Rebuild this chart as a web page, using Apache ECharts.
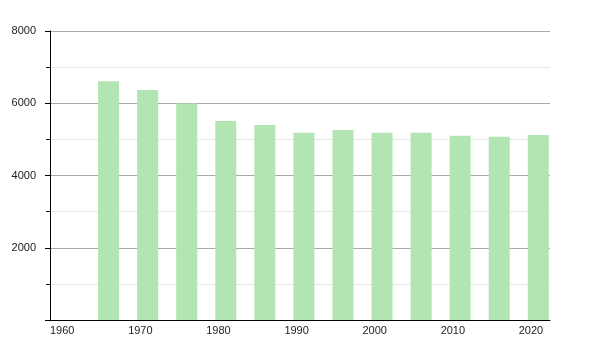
<!DOCTYPE html>
<html>
<head>
<meta charset="utf-8">
<script src="https://cdn.jsdelivr.net/npm/echarts@6/dist/echarts.min.js"></script>
<style>html,body{margin:0;padding:0;background:#fff}#c{width:600px;height:350px}</style>
</head>
<body>
<div id="c"></div>
<script>
// Bar centre years (as placed on the time axis) and population values
const years = [1967.5, 1972.5, 1977.5, 1982.5, 1987.5, 1992.5, 1997.5, 2002.5, 2007.5, 2012.5, 2017.5, 2022.5];
const values = [6610, 6370, 5990, 5510, 5400, 5185, 5260, 5185, 5185, 5100, 5075, 5120];
const xTicks = [1960, 1970, 1980, 1990, 2000, 2010, 2020];
const yTicks = [2000, 4000, 6000, 8000];

const chart = echarts.init(document.getElementById('c'), null, {renderer: 'canvas'});
chart.setOption({
  animation: false,
  backgroundColor: '#fff',
  grid: {left: 50, right: 50, top: 31, bottom: 30, containLabel: false},
  xAxis: {
    type: 'value', min: 1960, max: 2024, interval: 10,
    axisLine: {show: true, lineStyle: {color: '#000', width: 1}},
    axisTick: {show: false},
    splitLine: {show: false},
    axisLabel: {
      align: 'left', margin: 5, color: '#222', fontFamily: 'Liberation Sans', fontSize: 11,
      formatter: v => xTicks.includes(v) ? String(v) : ''
    }
  },
  yAxis: {
    type: 'value', min: 0, max: 8000, interval: 2000,
    axisLine: {show: true, lineStyle: {color: '#000', width: 1}},
    axisTick: {show: true, length: 5, lineStyle: {color: '#000'}},
    minorTick: {show: true, splitNumber: 2, length: 4, lineStyle: {color: '#000'}},
    splitLine: {show: true, lineStyle: {color: '#aaaaaa', width: 1}},
    minorSplitLine: {show: true, lineStyle: {color: '#e6e6e6', width: 1}},
    axisLabel: {
      margin: 14, color: '#222', fontFamily: 'Liberation Sans', fontSize: 11,
      formatter: v => yTicks.includes(v) ? String(v) : ''
    }
  },
  series: [{
    type: 'bar',
    data: years.map((y, i) => [y, values[i]]),
    barWidth: 21,
    itemStyle: {color: '#b2e5b2'}
  }]
});
</script>
</body>
</html>
